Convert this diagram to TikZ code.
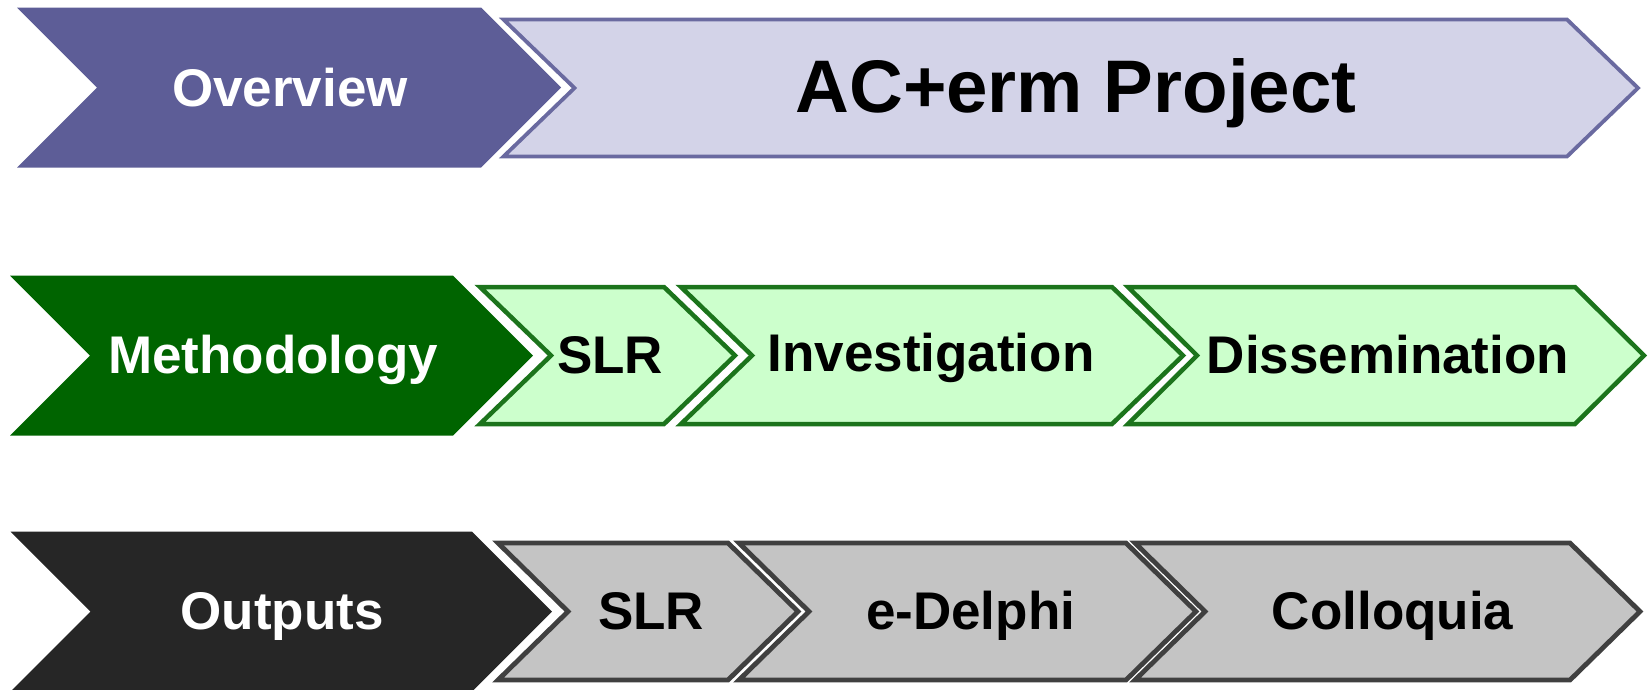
\documentclass[tikz,border=0pt]{standalone}
\usepackage{fontspec}
\setmainfont{Liberation Sans}
\definecolor{ovfill}{RGB}{93,93,151}
\definecolor{ovlight}{RGB}{211,211,232}
\definecolor{ovline}{RGB}{106,106,160}
\definecolor{mfill}{RGB}{0,100,0}
\definecolor{mlight}{RGB}{204,255,204}
\definecolor{mline}{RGB}{28,116,28}
\definecolor{ofill}{RGB}{38,38,38}
\definecolor{olight}{RGB}{196,196,196}
\definecolor{oline}{RGB}{64,64,64}
\newcommand\mychev[6]{%
  \path[#1] (#2,#4-#5) -- (#3,#4-#5) -- (#3+#6,#4) -- (#3,#4+#5) -- (#2,#4+#5) -- (#2+#6,#4) -- cycle;}
\tikzset{
  lblbase/.style={anchor=base, inner sep=0pt, font=\bfseries\fontsize{53}{60}\selectfont},
  lblw/.style={lblbase, text=white},
  lblb/.style={lblbase, text=black},
  lbltitle/.style={anchor=base, inner sep=0pt, text=black, font=\bfseries\fontsize{74.5}{82}\selectfont},
  rowone/.style={fill=ovlight, draw=ovline, line width=3.8pt, line join=miter},
  rowtwo/.style={fill=mlight, draw=mline, line width=4.5pt, line join=miter},
  rowthree/.style={fill=olight, draw=oline, line width=4.8pt, line join=miter}
}
\begin{document}
\begin{tikzpicture}[x=1pt,y=-1pt]
\useasboundingbox (0,0) rectangle (1648,689);
\clip (0,0) rectangle (1648,689);
% row 1
\mychev{fill=ovfill}{17}{481}{87.5}{80}{80}
\mychev{rowone}{503.5}{1567}{88}{68.5}{71}
% row 2
\mychev{fill=mfill}{10}{453}{355.5}{80}{80}
\mychev{rowtwo}{480}{664}{355.5}{68.5}{71}
\mychev{rowtwo}{681}{1112}{355.5}{68.5}{71}
\mychev{rowtwo}{1128}{1575}{355.5}{68.5}{69}
% row 3
\mychev{fill=ofill}{10.5}{472}{611.5}{80}{80}
\mychev{rowthree}{498}{728}{611.5}{68.5}{70}
\mychev{rowthree}{739}{1126}{611.5}{68.5}{70}
\mychev{rowthree}{1135}{1570}{611.5}{68.5}{70}
% labels
\node[lblw] (ov) at (290,106) {Overview};
\node[lbltitle] (proj) at (1076,112) {AC+erm Project};
\node[lblw] (meth) at (273,373) {Methodology};
\node[lblb] (slra) at (610,373) {SLR};
\node[lblb] (inv) at (931,371) {Investigation};
\node[lblb] (dis) at (1388,373) {Dissemination};
\node[lblw] (out) at (282,629) {Outputs};
\node[lblb] (slrb) at (651,629) {SLR};
\node[lblb] (edel) at (970.6,629) {e-Delphi};
\node[lblb] (coll) at (1392.6,629) {Colloquia};
\end{tikzpicture}
\end{document}
